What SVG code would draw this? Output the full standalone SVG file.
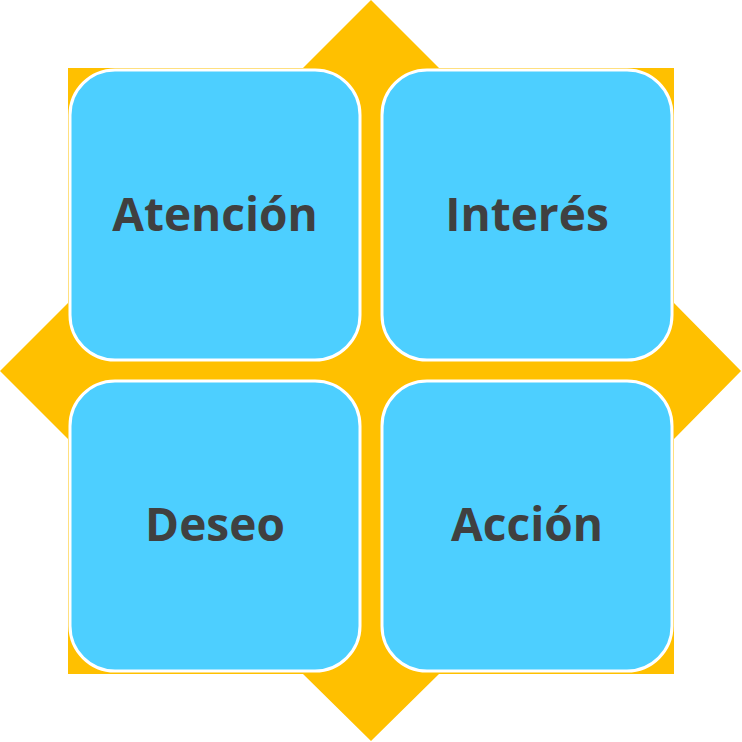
<svg xmlns="http://www.w3.org/2000/svg" width="742" height="742" viewBox="0 0 742 742">
<style>
.box{fill:#4DCFFF;stroke:#fff;stroke-width:3}
.t{font-family:"Open Sans","Liberation Sans",sans-serif;font-weight:bold;font-size:46px;fill:#404040;text-anchor:middle;dominant-baseline:central}
</style>
<g id="arrows">
<polygon fill="#FFC000" points="371,0 439,68 674,68 674,303 741,371 674,439 674,674 439,674 371,741 303,674 68,674 68,439 0,371 68,303 68,68 303,68"/>
</g>
<g id="atencion"><rect class="box" x="70" y="70" width="290" height="290" rx="45"/><text class="t" x="215" y="213">Atención</text></g>
<g id="interes"><rect class="box" x="382" y="70" width="290" height="290" rx="45"/><text class="t" x="527" y="213">Interés</text></g>
<g id="deseo"><rect class="box" x="70" y="381" width="290" height="290" rx="45"/><text class="t" x="215" y="523">Deseo</text></g>
<g id="accion"><rect class="box" x="382" y="381" width="290" height="290" rx="45"/><text class="t" x="527" y="523">Acción</text></g>
</svg>
